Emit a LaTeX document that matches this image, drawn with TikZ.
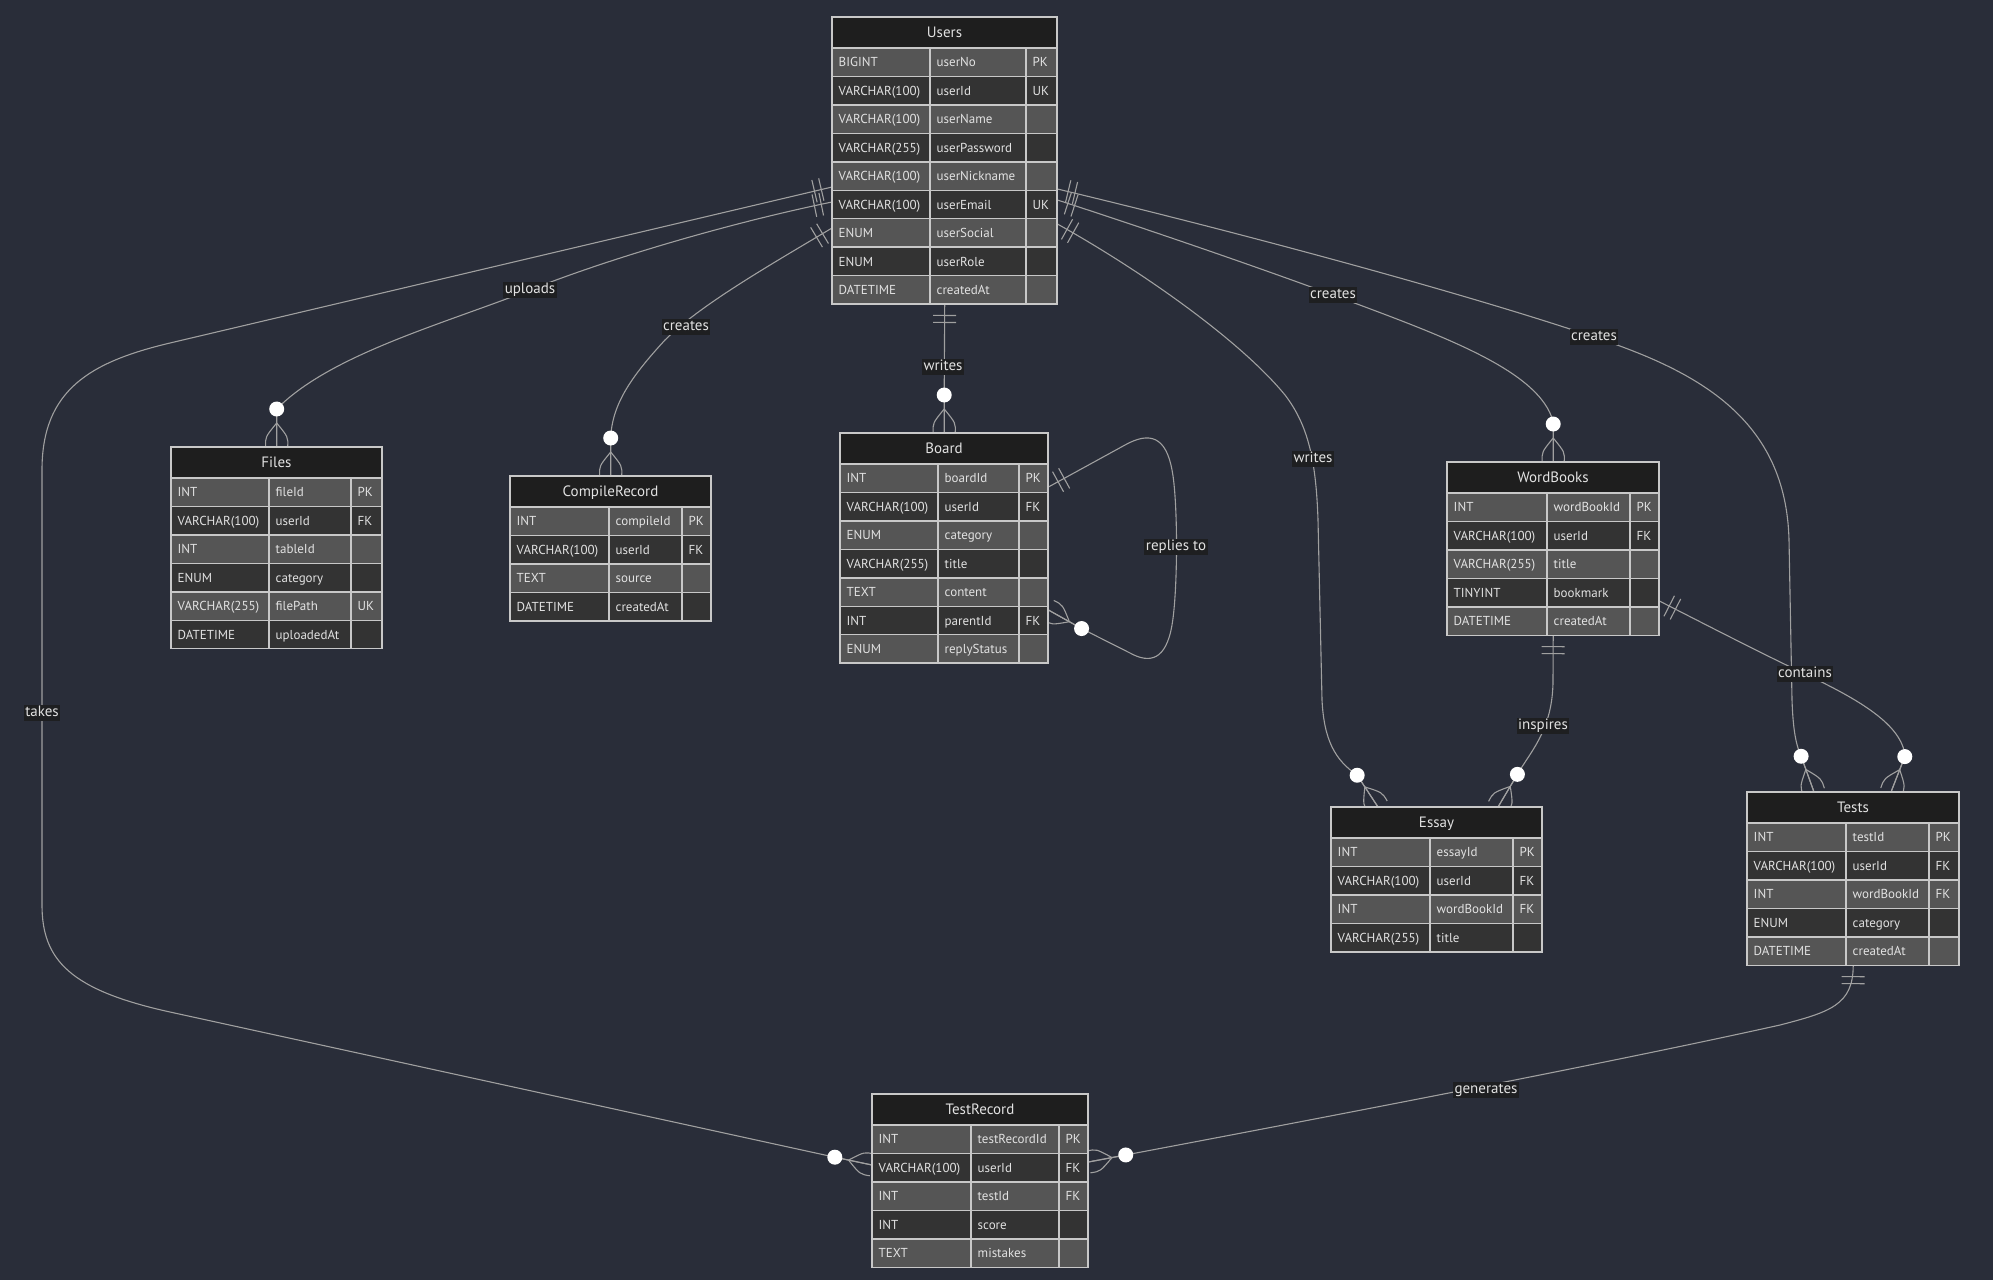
\documentclass[tikz,border=0pt]{standalone}
\usepackage{fontspec}
\setmainfont{PT Sans}
\usetikzlibrary{calc}
\pgfdeclarelayer{bg}\pgfdeclarelayer{edges}
\pgfsetlayers{bg,edges,main}
\definecolor{bgc}{RGB}{41,45,57}
\definecolor{hdrc}{RGB}{30,30,30}
\definecolor{rowAc}{RGB}{85,85,85}
\definecolor{rowBc}{RGB}{51,51,51}
\definecolor{cellc}{RGB}{200,200,200}
\definecolor{txtc}{RGB}{226,226,226}
\definecolor{linec}{RGB}{160,160,160}
\definecolor{lblc}{RGB}{30,31,33}
\tikzset{
 conn/.style={draw=linec, line width=1.1pt},
 cellline/.style={draw=cellc, line width=1.4pt},
 celltext/.style={text=txtc, font=\fontsize{13}{15}\selectfont, anchor=west, inner sep=0pt, text height=9.3pt, text depth=0pt},
 hdrtext/.style={text=txtc, font=\fontsize{15}{18}\selectfont, inner sep=0pt, text height=10.7pt, text depth=0pt},
 elabel/.style={fill=lblc, text=txtc, font=\fontsize{15}{18}\selectfont, inner xsep=1.5pt, inner ysep=1.2pt, text height=11pt, text depth=3.5pt},
}
\newcommand\ertable[9]{%
 \begin{scope}[shift={(#3,-#4)}]
 \pgfmathsetmacro\wA{#5}%
 \pgfmathsetmacro\wB{#5+#6}%
 \pgfmathsetmacro\wC{#5+#6+#7}%
 \pgfmathsetmacro\hT{31+#8*28.45}%
 \fill[hdrc] (0,0) rectangle (\wC,-31);
 \foreach \ty/\nm/\ky [count=\i] in {#9}{%
   \pgfmathsetmacro\ya{-31-(\i-1)*28.45}%
   \pgfmathsetmacro\yb{\ya-28.45}%
   \pgfmathsetmacro\ym{\ya-14.225}%
   \ifodd\i\relax\def\rc{rowAc}\else\def\rc{rowBc}\fi
   \fill[fill=\rc] (0,\ya) rectangle (\wC,\yb);
   \draw[cellline] (0,\ya) rectangle (\wA,\yb) (\wA,\ya) rectangle (\wB,\yb) (\wB,\ya) rectangle (\wC,\yb);
   \node[celltext] at (6.5,\ym) {\ty};
   \node[celltext] at (\wA+6.5,\ym) {\nm};
   \node[celltext] at (\wB+6.5,\ym) {\ky};
 }
 \draw[cellline] (0,0) rectangle (\wC,-31);
 \node[hdrtext] at (\wC/2,-15.5) {#2};
 \node[inner sep=0pt, minimum width=\wC pt, minimum height=\hT pt, anchor=north west] (#1) at (0,0) {};
 \end{scope}}
\newcommand\relbars[2]{%
 \path ($(#1)!11pt!(#2)$) coordinate (tmpbA) ($(#1)!18pt!(#2)$) coordinate (tmpbB);
 \draw[conn] ($(tmpbA)!11.5pt!90:(#2)$) -- ($(tmpbA)!11.5pt!-90:(#2)$);
 \draw[conn] ($(tmpbB)!11.5pt!90:(#2)$) -- ($(tmpbB)!11.5pt!-90:(#2)$);}
\newcommand\crowfoot[2]{%
 \path ($(#1)!24pt!(#2)$) coordinate (tmpa)
       ($(#1)!11pt!90:(#2)$) coordinate (tmpfA)
       ($(#1)!11pt!-90:(#2)$) coordinate (tmpfB)
       ($(#1)!15.2pt!49:(#2)$) coordinate (tmpqA)
       ($(#1)!15.2pt!-49:(#2)$) coordinate (tmpqB)
       ($(#1)!38pt!(#2)$) coordinate (tmpc);
 \draw[conn] (tmpa) .. controls (tmpqA) .. (tmpfA);
 \draw[conn] (tmpa) .. controls (tmpqB) .. (tmpfB);
 \draw[conn] (tmpc) -- (#1);
 \fill[white] (tmpc) circle (7.5);}
\begin{document}
\begin{tikzpicture}[x=1pt,y=1pt]
\useasboundingbox (0,0) rectangle (1993,-1280);
\begin{pgfonlayer}{bg}
\fill[bgc] (0,0) rectangle (1993,-1280);
\end{pgfonlayer}
% tables
\ertable{users}{Users}{832}{17}{98}{96}{31}{9}{BIGINT/userNo/PK, VARCHAR(100)/userId/UK, VARCHAR(100)/userName/{}, VARCHAR(255)/userPassword/{}, VARCHAR(100)/userNickname/{}, VARCHAR(100)/userEmail/UK, ENUM/userSocial/{}, ENUM/userRole/{}, DATETIME/createdAt/{}}
\ertable{files}{Files}{171}{447}{98}{82}{31}{6}{INT/fileId/PK, VARCHAR(100)/userId/FK, INT/tableId/{}, ENUM/category/{}, VARCHAR(255)/filePath/UK, DATETIME/uploadedAt/{}}
\ertable{compile}{CompileRecord}{510}{476}{99}{73}{29}{4}{INT/compileId/PK, VARCHAR(100)/userId/FK, TEXT/source/{}, DATETIME/createdAt/{}}
\ertable{board}{Board}{840}{433}{98}{81}{29}{7}{INT/boardId/PK, VARCHAR(100)/userId/FK, ENUM/category/{}, VARCHAR(255)/title/{}, TEXT/content/{}, INT/parentId/FK, ENUM/replyStatus/{}}
\ertable{wordbooks}{WordBooks}{1447}{462}{100}{83}{29}{5}{INT/wordBookId/PK, VARCHAR(100)/userId/FK, VARCHAR(255)/title/{}, TINYINT/bookmark/{}, DATETIME/createdAt/{}}
\ertable{essay}{Essay}{1331}{807}{99}{83}{29}{4}{INT/essayId/PK, VARCHAR(100)/userId/FK, INT/wordBookId/FK, VARCHAR(255)/title/{}}
\ertable{tests}{Tests}{1747}{792}{99}{83}{30}{5}{INT/testId/PK, VARCHAR(100)/userId/FK, INT/wordBookId/FK, ENUM/category/{}, DATETIME/createdAt/{}}
\ertable{testrecord}{TestRecord}{872}{1094}{99}{88}{29}{5}{INT/testRecordId/PK, VARCHAR(100)/userId/FK, INT/testId/FK, INT/score/{}, TEXT/mistakes/{}}
% attachment points
\coordinate (uL1) at ($(users.north west)+(0,-170)$);
\coordinate (uL2) at ($(users.north west)+(0,-185)$);
\coordinate (uL3) at ($(users.north west)+(0,-211)$);
\coordinate (uR1) at ($(users.north east)+(0,-172)$);
\coordinate (uR2) at ($(users.north east)+(0,-183)$);
\coordinate (uR3) at ($(users.north east)+(0,-207)$);
\coordinate (uB) at (users.south);
\coordinate (fiT) at (files.north);
\coordinate (fiC) at ($(fiT)+(0,38)$);
\coordinate (coT) at (compile.north);
\coordinate (coC) at ($(coT)+(0,38)$);
\coordinate (bdT) at (board.north);
\coordinate (bdC) at ($(bdT)+(0,39)$);
\coordinate (bdR1) at ($(board.north east)+(0,-54)$);
\coordinate (bdR2) at ($(board.north east)+(0,-177)$);
\coordinate (bdRc) at ($(bdR2)+(34,-19)$);
\coordinate (wbT) at (wordbooks.north);
\coordinate (wbC) at ($(wbT)+(0,40)$);
\coordinate (wbB) at (wordbooks.south);
\coordinate (wbR) at ($(wordbooks.north east)+(0,-139)$);
\coordinate (esT1) at ($(essay.north west)+(47,0)$);
\coordinate (esC1) at ($(esT1)+(-21,32)$);
\coordinate (esT2) at ($(essay.north west)+(167,0)$);
\coordinate (esC2) at ($(esT2)+(19,32)$);
\coordinate (teT1) at ($(tests.north west)+(67,0)$);
\coordinate (teC1) at ($(teT1)+(-13,36)$);
\coordinate (teT2) at ($(tests.north west)+(144,0)$);
\coordinate (teC2) at ($(teT2)+(14,36)$);
\coordinate (teB) at (tests.south);
\coordinate (trL) at ($(testrecord.north west)+(0,-71)$);
\coordinate (trLc) at ($(trL)+(-38,8)$);
\coordinate (trR) at ($(testrecord.north east)+(0,-68)$);
\coordinate (trRc) at ($(trR)+(37,7)$);
\begin{pgfonlayer}{edges}
% Users takes TestRecord
\draw[conn] (uL1) -- (170,-343) .. controls (90,-362) and (42,-390) .. (42,-470) -- (42,-905) .. controls (42,-960) and (70,-990) .. (170,-1012) -- (trLc) -- (trL);
\relbars{uL1}{170,-343}
\crowfoot{trL}{trLc}
% Users uploads Files
\draw[conn] (uL2) .. controls (720,-225) and (600,-262) .. (530,-290) .. controls (440,-325) and (330,-355) .. (fiC) -- (fiT);
\relbars{uL2}{720,-225}
\crowfoot{fiT}{fiC}
% Users creates CompileRecord
\draw[conn] (uL3) .. controls (770,-265) and (700,-305) .. (665,-340) .. controls (630,-378) and (612,-405) .. (coC) -- (coT);
\relbars{uL3}{770,-265}
\crowfoot{coT}{coC}
% Users writes Board
\draw[conn] (uB) -- (bdC) -- (bdT);
\relbars{uB}{bdC}
\crowfoot{bdT}{bdC}
% Users writes Essay
\draw[conn] (uR3) .. controls (1140,-270) and (1240,-340) .. (1285,-395) .. controls (1308,-425) and (1316,-460) .. (1318,-520) -- (1322,-700) .. controls (1324,-740) and (1335,-760) .. (esC1) -- (esT1);
\relbars{uR3}{1140,-270}
\crowfoot{esT1}{esC1}
% Users creates WordBooks
\draw[conn] (uR2) .. controls (1150,-230) and (1260,-268) .. (1333,-295) .. controls (1440,-335) and (1540,-370) .. (wbC) -- (wbT);
\relbars{uR2}{1150,-230}
\crowfoot{wbT}{wbC}
% Users creates Tests
\draw[conn] (uR1) .. controls (1250,-235) and (1470,-295) .. (1594,-337) .. controls (1700,-372) and (1786,-420) .. (1789,-540) -- (1792,-700) .. controls (1793,-730) and (1796,-745) .. (teC1) -- (teT1);
\relbars{uR1}{1250,-235}
\crowfoot{teT1}{teC1}
% Board replies to Board
\draw[conn] (bdR1) -- (1125,-445) .. controls (1150,-431) and (1166,-437) .. (1172,-470) .. controls (1178,-500) and (1178,-590) .. (1172,-625) .. controls (1166,-660) and (1150,-664) .. (1130,-653) -- (bdRc) -- (bdR2);
\relbars{bdR1}{1125,-445}
\crowfoot{bdR2}{bdRc}
% WordBooks inspires Essay
\draw[conn] (wbB) -- (1553,-680) .. controls (1553,-730) and (1530,-752) .. (esC2) -- (esT2);
\relbars{wbB}{1553,-680}
\crowfoot{esT2}{esC2}
% WordBooks contains Tests
\draw[conn] (wbR) .. controls (1720,-632) and (1765,-655) .. (1805,-674) .. controls (1860,-700) and (1902,-725) .. (teC2) -- (teT2);
\relbars{wbR}{1720,-632}
\crowfoot{teT2}{teC2}
% Tests generates TestRecord
\draw[conn] (teB) .. controls (1853,-1005) and (1830,-1012) .. (1780,-1025) .. controls (1600,-1065) and (1300,-1122) .. (trRc) -- (trR);
\relbars{teB}{1853,-1005}
\crowfoot{trR}{trRc}
\end{pgfonlayer}
% labels
\node[elabel] (l-uploads) at (530,-290) {uploads};
\node[elabel] (l-createsC) at (686,-327) {creates};
\node[elabel] (l-writesB) at (943,-367) {writes};
\node[elabel] (l-writesE) at (1313,-459) {writes};
\node[elabel] (l-createsW) at (1333,-295) {creates};
\node[elabel] (l-createsT) at (1594,-337) {creates};
\node[elabel] (l-replies) at (1176,-547) {replies to};
\node[elabel] (l-inspires) at (1543,-726) {inspires};
\node[elabel] (l-contains) at (1805,-674) {contains};
\node[elabel] (l-takes) at (42,-713) {takes};
\node[elabel] (l-generates) at (1486,-1090) {generates};
\end{tikzpicture}
\end{document}
